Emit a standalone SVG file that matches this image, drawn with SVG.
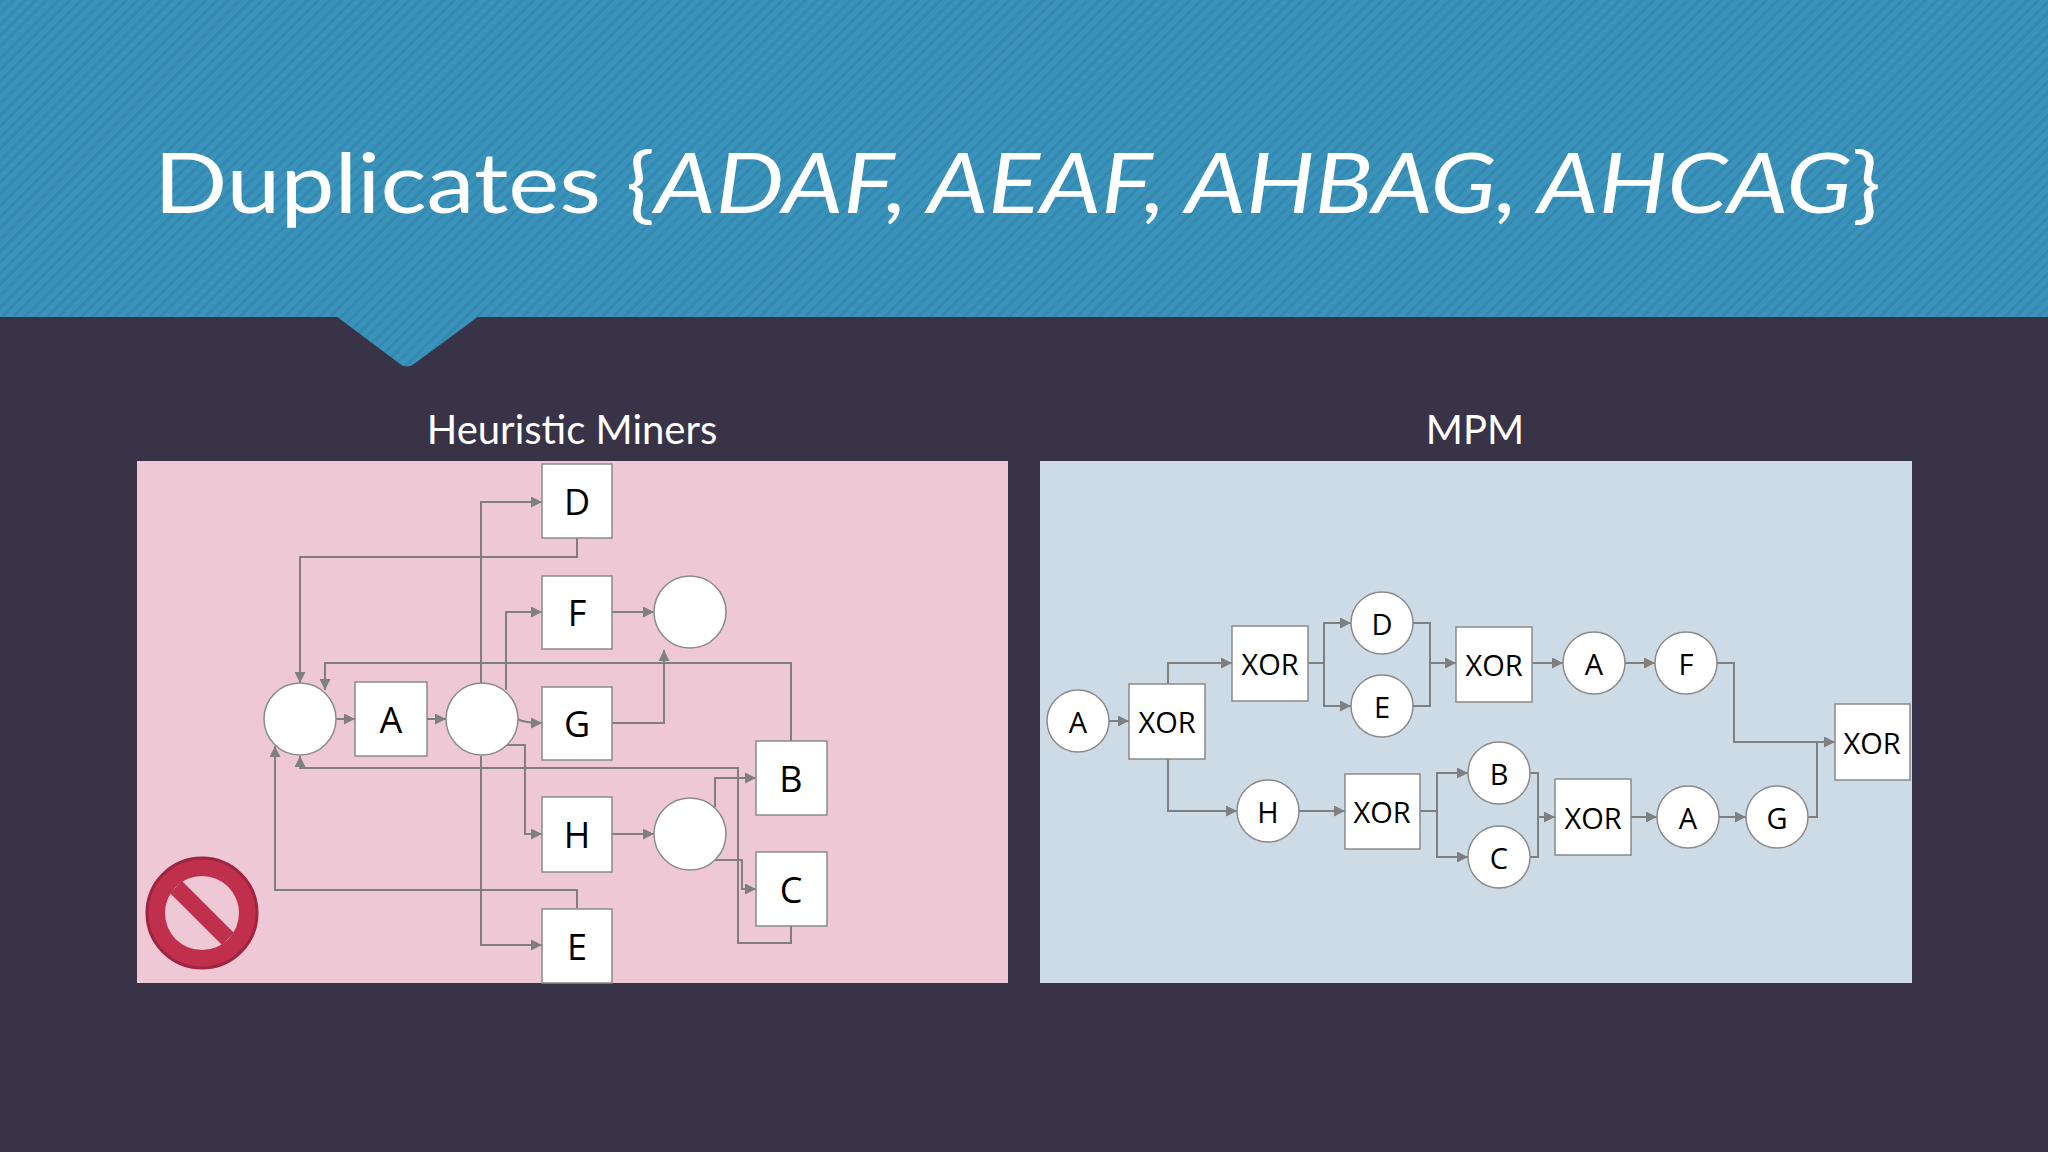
<svg xmlns="http://www.w3.org/2000/svg" width="2048" height="1152" viewBox="0 0 2048 1152">
<defs>
<pattern id="stripe" width="8" height="8" patternUnits="userSpaceOnUse" patternTransform="rotate(45)">
<rect width="8" height="8" fill="#3a93bb"/><rect width="3" height="8" fill="#3589b0"/>
</pattern>
<marker id="ah" viewBox="0 0 10 10" refX="10" refY="5" markerWidth="11" markerHeight="11" markerUnits="userSpaceOnUse" orient="auto">
<path d="M0,0 L10,5 L0,10 z" fill="#7f7f7f"/>
</marker>
<style>
.c{fill:none;stroke:#7f7f7f;stroke-width:2;marker-end:url(#ah)}
.cn{fill:none;stroke:#7f7f7f;stroke-width:2}
.n{fill:#fff;stroke:#8a8a8a;stroke-width:1.5}
.t{font-family:"Open Sans","Liberation Sans",sans-serif;font-size:36px;fill:#000;text-anchor:middle;dominant-baseline:central}
.x{font-family:"Open Sans","Liberation Sans",sans-serif;font-size:29px;fill:#000;text-anchor:middle;dominant-baseline:central}
.h{font-family:"Lato","Liberation Sans",sans-serif;font-size:40px;fill:#fff;text-anchor:middle}
</style>
</defs>
<rect width="2048" height="1152" fill="#383346"/>
<rect width="2048" height="317" fill="url(#stripe)"/>
<path d="M336,316 L479,316 L414,364 Q407,369 400,364 Z" fill="url(#stripe)"/>
<text x="154" y="213" font-family="Lato,'Liberation Sans',sans-serif" font-size="84" fill="#fff" textLength="1727" lengthAdjust="spacingAndGlyphs">Duplicates {<tspan font-style="italic">ADAF, AEAF, AHBAG, AHCAG</tspan>}</text>
<text class="h" x="572" y="444">Heuristic Miners</text>
<text class="h" x="1475" y="444">MPM</text>
<rect x="137" y="461" width="871" height="522" fill="#eec8d4"/>
<rect x="1040" y="461" width="872" height="522" fill="#cddbe7"/>

<g id="connectors-left">
<path class="c" d="M300,719 M335,719 L355,719"/>
<path class="c" d="M427,719 L446,719"/>
<path class="c" d="M577,538 V557 H300 V683"/>
<path class="c" d="M481,683 V502 H542"/>
<path class="c" d="M506,690 V612 H542"/>
<path class="c" d="M612,612 H654"/>
<path class="c" d="M791,741 V663 H325 V690"/>
<path class="c" d="M612,723 H664 V650"/>
<path class="c" d="M517,719 Q525,723 542,723"/>
<path class="c" d="M504,745 H525 V834 H542"/>
<path class="c" d="M612,834 H654"/>
<path class="c" d="M791,926 V943 H738 V768 H300 V756"/>
<path class="c" d="M715,807 V778 H756"/>
<path class="c" d="M715,860 H742 V889 H756"/>
<path class="c" d="M577,908 V890 H275 V746"/>
<path class="c" d="M481,756 V945 H542"/>
</g>
<g id="L-c1"><circle class="n" cx="300" cy="719" r="36"/></g>
<g id="L-A"><rect class="n" x="355" y="682" width="72" height="74"/><text class="t" x="391" y="719">A</text></g>
<g id="L-c2"><circle class="n" cx="482" cy="719" r="36"/></g>
<g id="L-D"><rect class="n" x="542" y="464" width="70" height="74"/><text class="t" x="577" y="501">D</text></g>
<g id="L-F"><rect class="n" x="542" y="576" width="70" height="73"/><text class="t" x="577" y="612">F</text></g>
<g id="L-c3"><circle class="n" cx="690" cy="612" r="36"/></g>
<g id="L-G"><rect class="n" x="542" y="687" width="70" height="73"/><text class="t" x="577" y="723">G</text></g>
<g id="L-B"><rect class="n" x="756" y="741" width="71" height="74"/><text class="t" x="791" y="778">B</text></g>
<g id="L-H"><rect class="n" x="542" y="797" width="70" height="75"/><text class="t" x="577" y="834">H</text></g>
<g id="L-c4"><circle class="n" cx="690" cy="834" r="36"/></g>
<g id="L-C"><rect class="n" x="756" y="852" width="71" height="74"/><text class="t" x="791" y="889">C</text></g>
<g id="L-E"><rect class="n" x="542" y="909" width="70" height="74"/><text class="t" x="577" y="946">E</text></g>
<g id="stop">
<circle cx="202" cy="913" r="55" fill="#c0304d" stroke="#9e2440" stroke-width="3"/>
<circle cx="202" cy="913" r="37" fill="#eec8d4"/>
<line x1="176" y1="887" x2="228" y2="939" stroke="#c0304d" stroke-width="17"/>
</g>

<g id="connectors-right">
<path class="c" d="M1109,721 H1129"/>
<path class="c" d="M1168,684 V663 H1232"/>
<path class="c" d="M1168,759 V811 H1237"/>
<path class="c" d="M1308,663 H1324 V623 H1351"/>
<path class="c" d="M1324,663 V706 H1351"/>
<path class="cn" d="M1413,623 H1430 V706 H1413"/>
<path class="c" d="M1430,663 H1456"/>
<path class="c" d="M1532,663 H1563"/>
<path class="c" d="M1625,663 H1655"/>
<path class="c" d="M1717,663 H1734 V742 H1835"/>
<path class="cn" d="M1808,817 H1817 V742"/>
<path class="c" d="M1299,811 H1345"/>
<path class="c" d="M1420,811 H1437 V773 H1468"/>
<path class="c" d="M1437,811 V857 H1468"/>
<path class="cn" d="M1530,773 H1538 V857 H1530"/>
<path class="c" d="M1538,817 H1555"/>
<path class="c" d="M1631,817 H1657"/>
<path class="c" d="M1719,817 H1746"/>
</g>
<g id="R-A1"><circle class="n" cx="1078" cy="721" r="31"/><text class="x" x="1078" y="721">A</text></g>
<g id="R-X1"><rect class="n" x="1129" y="684" width="76" height="75"/><text class="x" x="1167" y="721">XOR</text></g>
<g id="R-X2"><rect class="n" x="1232" y="626" width="76" height="75"/><text class="x" x="1270" y="663">XOR</text></g>
<g id="R-D"><circle class="n" cx="1382" cy="623" r="31"/><text class="x" x="1382" y="623">D</text></g>
<g id="R-E"><circle class="n" cx="1382" cy="706" r="31"/><text class="x" x="1382" y="706">E</text></g>
<g id="R-X3"><rect class="n" x="1456" y="627" width="76" height="75"/><text class="x" x="1494" y="664">XOR</text></g>
<g id="R-A2"><circle class="n" cx="1594" cy="663" r="31"/><text class="x" x="1594" y="663">A</text></g>
<g id="R-F"><circle class="n" cx="1686" cy="663" r="31"/><text class="x" x="1686" y="663">F</text></g>
<g id="R-X6"><rect class="n" x="1835" y="704" width="75" height="76"/><text class="x" x="1872" y="742">XOR</text></g>
<g id="R-H"><circle class="n" cx="1268" cy="811" r="31"/><text class="x" x="1268" y="811">H</text></g>
<g id="R-X4"><rect class="n" x="1345" y="774" width="75" height="75"/><text class="x" x="1382" y="811">XOR</text></g>
<g id="R-B"><circle class="n" cx="1499" cy="773" r="31"/><text class="x" x="1499" y="773">B</text></g>
<g id="R-C"><circle class="n" cx="1499" cy="857" r="31"/><text class="x" x="1499" y="857">C</text></g>
<g id="R-X5"><rect class="n" x="1555" y="779" width="76" height="76"/><text class="x" x="1593" y="817">XOR</text></g>
<g id="R-A3"><circle class="n" cx="1688" cy="817" r="31"/><text class="x" x="1688" y="817">A</text></g>
<g id="R-G"><circle class="n" cx="1777" cy="817" r="31"/><text class="x" x="1777" y="817">G</text></g>
</svg>
